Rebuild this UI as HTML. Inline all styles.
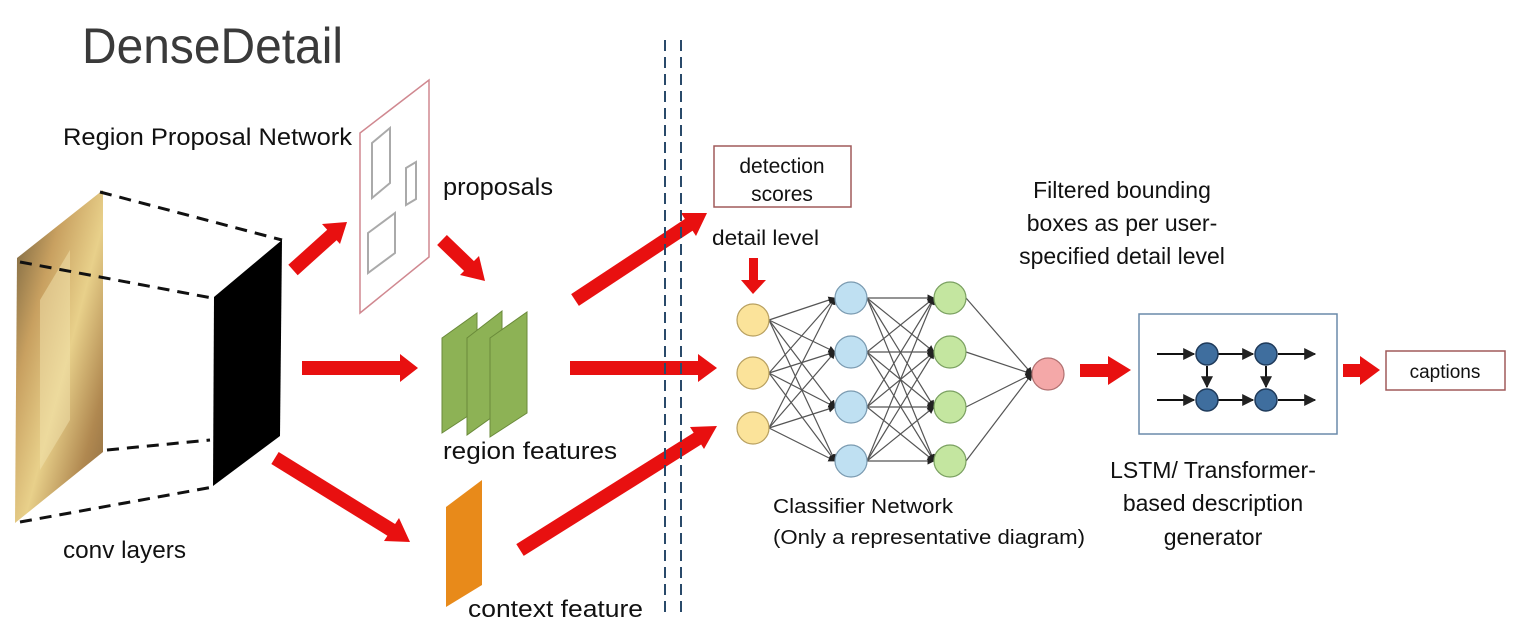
<!DOCTYPE html>
<html><head><meta charset="utf-8"><style>
html,body{margin:0;padding:0;background:#fff;}
svg{display:block;}
text{font-family:"Liberation Sans",sans-serif;fill:#111;}
</style></head><body>
<svg width="1532" height="642" viewBox="0 0 1532 642" xmlns="http://www.w3.org/2000/svg">
<defs>
<linearGradient id="ph" x1="0" y1="0" x2="1" y2="1">
<stop offset="0" stop-color="#6a5a3a"/><stop offset="0.3" stop-color="#c8a060"/><stop offset="0.55" stop-color="#e8d08a"/><stop offset="0.8" stop-color="#b08850"/><stop offset="1" stop-color="#8a6a40"/>
</linearGradient>
<marker id="ah" viewBox="0 0 10 10" refX="9" refY="5" markerWidth="6" markerHeight="6" orient="auto"><path d="M0,0 L10,5 L0,10 z" fill="#222"/></marker>
</defs>
<text x="82" y="63" font-size="50" style="fill:#3a3a3a" textLength="261" lengthAdjust="spacingAndGlyphs">DenseDetail</text>

<polygon points="17,258 103,190 103,452 15,523" fill="url(#ph)"/>
<polygon points="40,300 70,250 70,420 40,470" fill="#f2e4b0" opacity="0.5"/>
<g stroke="#111" stroke-width="3" stroke-dasharray="12,8" fill="none">
<line x1="100" y1="192" x2="282" y2="240"/>
<line x1="20" y1="262" x2="212" y2="298"/>
<line x1="107" y1="450" x2="210" y2="440"/>
<line x1="20" y1="522" x2="213" y2="487"/>
</g>
<polygon points="214,297 282,240 280,436 213,486" fill="#000"/>
<text x="63" y="558" font-size="24" textLength="123" lengthAdjust="spacingAndGlyphs">conv layers</text>
<text x="63" y="145" font-size="24" textLength="289" lengthAdjust="spacingAndGlyphs">Region Proposal Network</text>

<polygon points="360,133 429,80 429,257 360,313" fill="#fff" stroke="#d08890" stroke-width="1.5"/>
<g fill="none" stroke="#aaa" stroke-width="2">
<polygon points="372,143 390,128 390,183 372,198"/>
<polygon points="406,168 416,162 416,199 406,205"/>
<polygon points="368,233 395,213 395,253 368,273"/>
</g>
<text x="443" y="195" font-size="24" textLength="110" lengthAdjust="spacingAndGlyphs">proposals</text>

<g fill="#8db255" stroke="#6a8a3a" stroke-width="1">
<polygon points="442,338 477,313 477,410 442,433"/>
<polygon points="467,338 502,311 502,410 467,435"/>
<polygon points="490,338 527,312 527,413 490,437"/>
</g>
<text x="443" y="459" font-size="24" textLength="174" lengthAdjust="spacingAndGlyphs">region features</text>

<polygon points="446,507 482,480 482,585 446,607" fill="#e88a1a"/>
<text x="468" y="617" font-size="24" textLength="175" lengthAdjust="spacingAndGlyphs">context feature</text>

<g stroke="#e81010" stroke-width="14" fill="none">
<line x1="293" y1="270" x2="333" y2="234"/>
<line x1="302" y1="368" x2="400" y2="368"/>
<line x1="275" y1="458" x2="393" y2="531"/>
<line x1="442" y1="240" x2="470" y2="267"/>
<line x1="570" y1="368" x2="700" y2="368"/>
<line x1="575" y1="300" x2="690" y2="224"/>
<line x1="520" y1="550" x2="700" y2="437"/>
</g>
<g fill="#e81010">
<polygon points="347,222 322,224 340,244"/>
<polygon points="418,368 400,354 400,382"/>
<polygon points="410,542 384,541 399,518"/>
<polygon points="485,281 460,275 479,256"/>
<polygon points="717,368 698,354 698,382"/>
<polygon points="707,213 681,213 696,236"/>
<polygon points="717,426 690,427 704,449"/>
<rect x="749" y="258" width="9" height="24"/>
<polygon points="741,280 766,280 753,294"/>
<rect x="1080" y="364" width="30" height="13"/>
<polygon points="1108,356 1131,370 1108,385"/>
<rect x="1343" y="364" width="20" height="13"/>
<polygon points="1360,356 1380,370 1360,385"/>
</g>

<g stroke="#2a4a6a" stroke-width="2" stroke-dasharray="11,6">
<line x1="665" y1="40" x2="665" y2="618"/>
<line x1="681" y1="40" x2="681" y2="618"/>
</g>

<rect x="714" y="146" width="137" height="61" fill="#fff" stroke="#a05a5a" stroke-width="1.5"/>
<text x="782" y="173" font-size="21" text-anchor="middle">detection</text>
<text x="782" y="201" font-size="21" text-anchor="middle">scores</text>
<text x="712" y="245" font-size="21" textLength="107" lengthAdjust="spacingAndGlyphs">detail level</text>

<g stroke="#555" stroke-width="1.2" marker-end="url(#ah)">
<line x1="769" y1="320" x2="835" y2="298"/><line x1="769" y1="320" x2="835" y2="352"/><line x1="769" y1="320" x2="835" y2="407"/><line x1="769" y1="320" x2="835" y2="461"/>
<line x1="769" y1="373" x2="835" y2="298"/><line x1="769" y1="373" x2="835" y2="352"/><line x1="769" y1="373" x2="835" y2="407"/><line x1="769" y1="373" x2="835" y2="461"/>
<line x1="769" y1="428" x2="835" y2="298"/><line x1="769" y1="428" x2="835" y2="352"/><line x1="769" y1="428" x2="835" y2="407"/><line x1="769" y1="428" x2="835" y2="461"/>
<line x1="867" y1="298" x2="934" y2="298"/><line x1="867" y1="298" x2="934" y2="352"/><line x1="867" y1="298" x2="934" y2="407"/><line x1="867" y1="298" x2="934" y2="461"/>
<line x1="867" y1="352" x2="934" y2="298"/><line x1="867" y1="352" x2="934" y2="352"/><line x1="867" y1="352" x2="934" y2="407"/><line x1="867" y1="352" x2="934" y2="461"/>
<line x1="867" y1="407" x2="934" y2="298"/><line x1="867" y1="407" x2="934" y2="352"/><line x1="867" y1="407" x2="934" y2="407"/><line x1="867" y1="407" x2="934" y2="461"/>
<line x1="867" y1="461" x2="934" y2="298"/><line x1="867" y1="461" x2="934" y2="352"/><line x1="867" y1="461" x2="934" y2="407"/><line x1="867" y1="461" x2="934" y2="461"/>
<line x1="966" y1="298" x2="1032" y2="374"/><line x1="966" y1="352" x2="1032" y2="374"/><line x1="966" y1="407" x2="1032" y2="374"/><line x1="966" y1="461" x2="1032" y2="374"/>
</g>
<g stroke-width="1.2">
<g fill="#fbe39a" stroke="#b8a060">
<circle cx="753" cy="320" r="16"/><circle cx="753" cy="373" r="16"/><circle cx="753" cy="428" r="16"/>
</g>
<g fill="#bfe0f2" stroke="#7a9ab0">
<circle cx="851" cy="298" r="16"/><circle cx="851" cy="352" r="16"/><circle cx="851" cy="407" r="16"/><circle cx="851" cy="461" r="16"/>
</g>
<g fill="#c4e6a0" stroke="#7aa060">
<circle cx="950" cy="298" r="16"/><circle cx="950" cy="352" r="16"/><circle cx="950" cy="407" r="16"/><circle cx="950" cy="461" r="16"/>
</g>
<circle cx="1048" cy="374" r="16" fill="#f4a8a8" stroke="#b07070"/>
</g>
<text x="773" y="513" font-size="20" textLength="180" lengthAdjust="spacingAndGlyphs">Classifier Network</text>
<text x="773" y="544" font-size="20" textLength="312" lengthAdjust="spacingAndGlyphs">(Only a representative diagram)</text>

<text x="1122" y="198" font-size="23" text-anchor="middle">Filtered bounding</text>
<text x="1122" y="231" font-size="23" text-anchor="middle">boxes as per user-</text>
<text x="1122" y="264" font-size="23" text-anchor="middle">specified detail level</text>

<rect x="1139" y="314" width="198" height="120" fill="#fff" stroke="#6a8aaa" stroke-width="1.5"/>
<g stroke="#111" stroke-width="2" marker-end="url(#ah)">
<line x1="1157" y1="354" x2="1194" y2="354"/><line x1="1218" y1="354" x2="1253" y2="354"/><line x1="1278" y1="354" x2="1315" y2="354"/>
<line x1="1157" y1="400" x2="1194" y2="400"/><line x1="1218" y1="400" x2="1253" y2="400"/><line x1="1278" y1="400" x2="1315" y2="400"/>
<line x1="1207" y1="366" x2="1207" y2="387"/><line x1="1266" y1="366" x2="1266" y2="387"/>
</g>
<g fill="#3f6e9e" stroke="#1f3a5a" stroke-width="1.5">
<circle cx="1207" cy="354" r="11"/><circle cx="1266" cy="354" r="11"/><circle cx="1207" cy="400" r="11"/><circle cx="1266" cy="400" r="11"/>
</g>
<text x="1213" y="478" font-size="23" text-anchor="middle">LSTM/ Transformer-</text>
<text x="1213" y="511" font-size="23" text-anchor="middle">based description</text>
<text x="1213" y="545" font-size="23" text-anchor="middle">generator</text>

<rect x="1386" y="351" width="119" height="39" fill="#fff" stroke="#a05a5a" stroke-width="1.5"/>
<text x="1445" y="378" font-size="19" text-anchor="middle">captions</text>
</svg>
</body></html>
